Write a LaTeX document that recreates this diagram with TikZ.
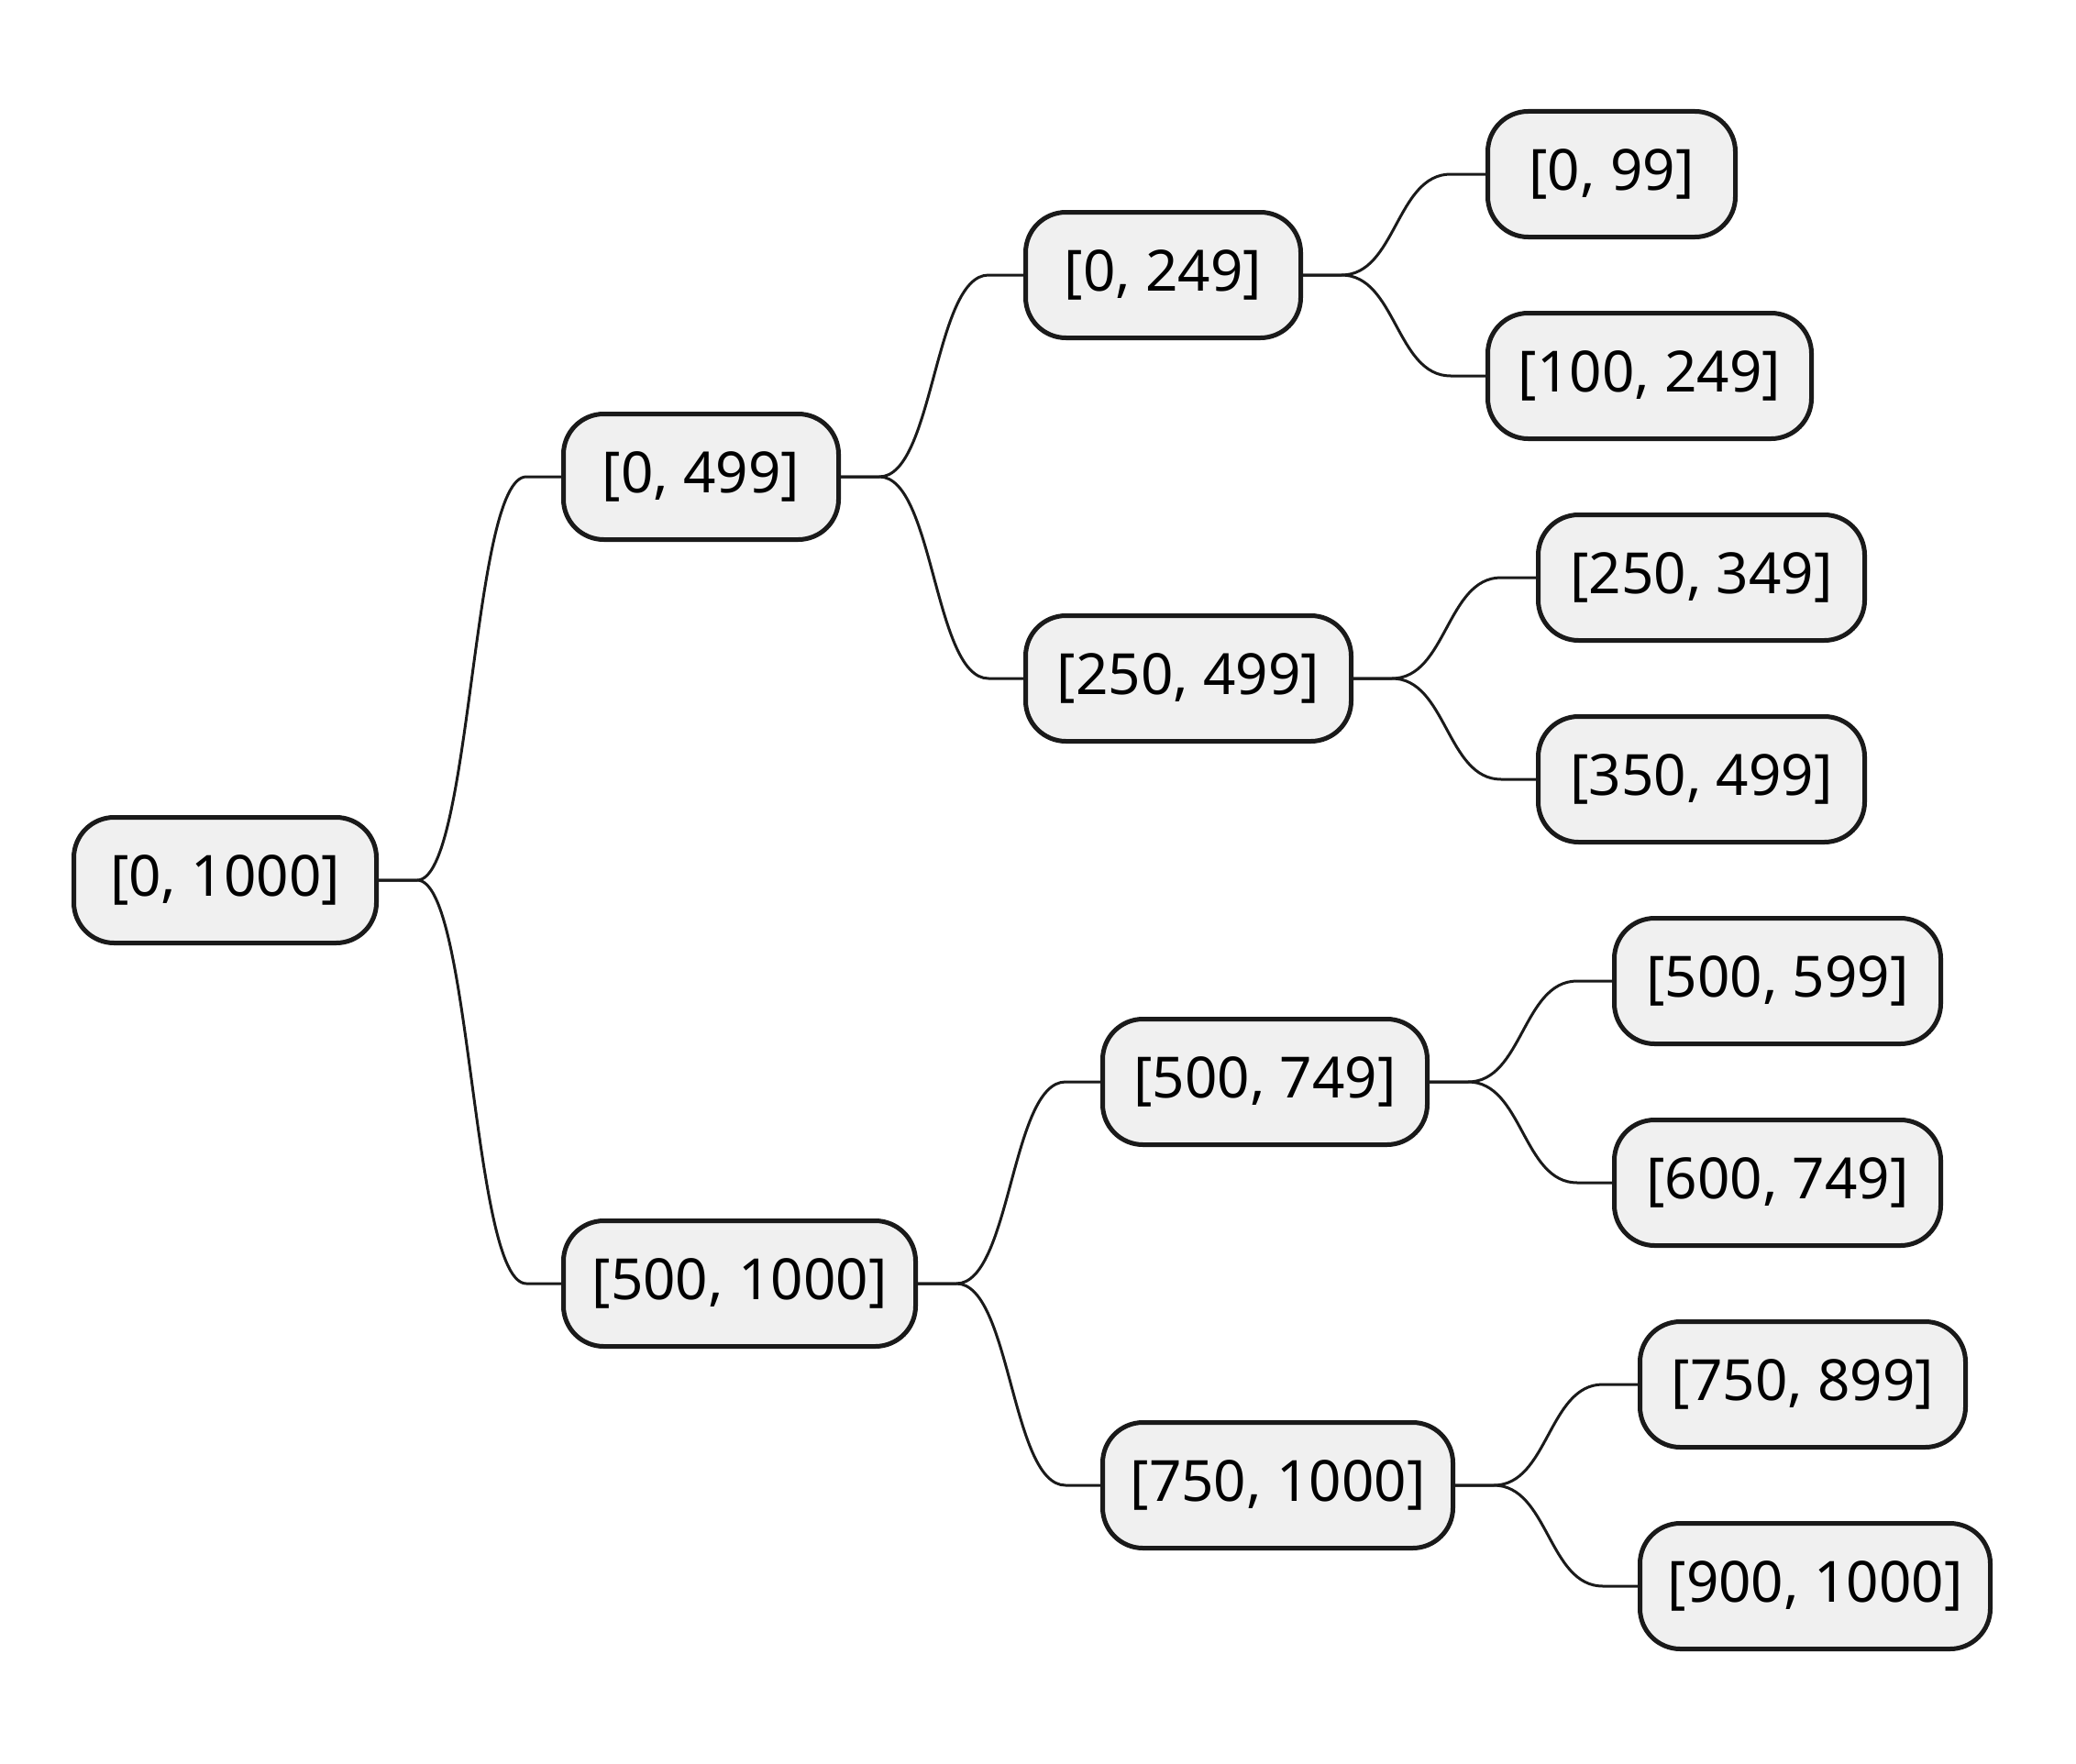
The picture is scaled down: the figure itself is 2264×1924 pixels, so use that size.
\documentclass[tikz,border=0pt]{standalone}
\usepackage{fontspec}
\setmainfont{Noto Sans}
\usetikzlibrary{calc}
\definecolor{boxfill}{HTML}{F0F0F0}
\definecolor{ink}{HTML}{1A1A1A}
\tikzset{
  nbox/.style={draw=ink, fill=boxfill, line width=5pt, rounded corners=44pt,
    minimum height=137pt, minimum width=#1, inner sep=0pt, anchor=west,
    text=black, font=\fontsize{62pt}{74pt}\selectfont},
  conn/.style={draw=ink, line width=3pt},
}
\newcommand\mmbranch[2]{%
  \path (#1.east) ++(42pt,0) coordinate (#1#2s);
  \path (#2.west) ++(-38pt,0) coordinate (#1#2e);
  \path ($(#1#2s)!0.5!(#1#2e)$) coordinate (#1#2m);
  \draw[conn] (#1.east) -- (#1#2s) .. controls (#1#2m |- #1#2s) and (#1#2m |- #1#2e) .. (#1#2e) -- (#2.west);
}
\begin{document}
\begin{tikzpicture}[x=1pt,y=1pt]
\useasboundingbox (0,0) rectangle (2264,-1924);
\node[nbox=330pt] (r) at (78,-960) {[0, 1000]};
% level 1
\node[nbox=300pt] (a) at ($(r.east)+(199,440)$) {[0, 499]};
\node[nbox=384pt] (b) at ($(r.east)+(199,-440)$) {[500, 1000]};
% level 2
\node[nbox=300pt] (aa) at ($(a.east)+(199,220)$) {[0, 249]};
\node[nbox=355pt] (ab) at ($(a.east)+(199,-220)$) {[250, 499]};
\node[nbox=354pt] (ba) at ($(b.east)+(199,220)$) {[500, 749]};
\node[nbox=382pt] (bb) at ($(b.east)+(199,-220)$) {[750, 1000]};
% leaves
\node[nbox=270pt] (aaa) at ($(aa.east)+(199,110)$) {[0, 99]};
\node[nbox=353pt] (aab) at ($(aa.east)+(199,-110)$) {[100, 249]};
\node[nbox=356pt] (aba) at ($(ab.east)+(199,110)$) {[250, 349]};
\node[nbox=356pt] (abb) at ($(ab.east)+(199,-110)$) {[350, 499]};
\node[nbox=356pt] (baa) at ($(ba.east)+(199,110)$) {[500, 599]};
\node[nbox=356pt] (bab) at ($(ba.east)+(199,-110)$) {[600, 749]};
\node[nbox=355pt] (bba) at ($(bb.east)+(199,110)$) {[750, 899]};
\node[nbox=382pt] (bbb) at ($(bb.east)+(199,-110)$) {[900, 1000]};
% connectors
\mmbranch{r}{a}
\mmbranch{r}{b}
\mmbranch{a}{aa}
\mmbranch{a}{ab}
\mmbranch{b}{ba}
\mmbranch{b}{bb}
\mmbranch{aa}{aaa}
\mmbranch{aa}{aab}
\mmbranch{ab}{aba}
\mmbranch{ab}{abb}
\mmbranch{ba}{baa}
\mmbranch{ba}{bab}
\mmbranch{bb}{bba}
\mmbranch{bb}{bbb}
\end{tikzpicture}
\end{document}
